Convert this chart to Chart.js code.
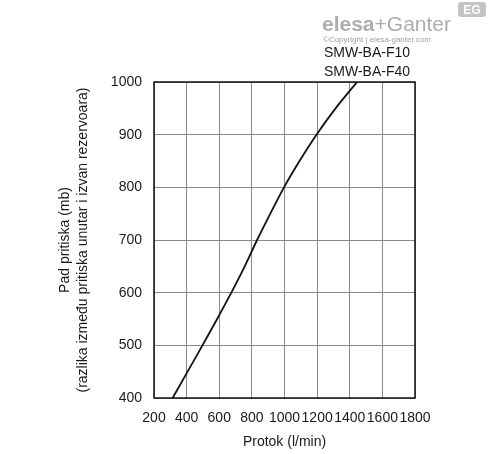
<!DOCTYPE html>
<html>
<head>
<meta charset="utf-8">
<script src="https://cdn.jsdelivr.net/npm/chart.js@4/dist/chart.umd.min.js"></script>
<style>
  html, body { margin: 0; padding: 0; background: #fff; }
  #wrap { width: 488px; height: 454px; }
</style>
</head>
<body>
<div id="wrap"><canvas id="chart" width="488" height="454"></canvas></div>
<script>
// flow (l/min) vs pressure drop (mb)
const flow = [314, 406, 497, 587, 674, 756, 832, 913, 997, 1092, 1196, 1313, 1445];
const pressure = [400, 450, 500, 550, 600, 650, 700, 750, 800, 850, 900, 950, 1000];
const xTicks = [200, 400, 600, 800, 1000, 1200, 1400, 1600, 1800];
const yTicks = [400, 500, 600, 700, 800, 900, 1000];
const modelLabels = ["SMW-BA-F10", "SMW-BA-F40"];

const FONT = "'Liberation Sans', Arial, sans-serif";

// frame round the plot + model names + logo
const extras = {
  id: "extras",
  afterDraw(chart) {
    const { ctx, chartArea: a } = chart;
    ctx.save();
    ctx.strokeStyle = "#111";
    ctx.lineWidth = 1.5;
    ctx.strokeRect(a.left, a.top, a.right - a.left, a.bottom - a.top);

    ctx.fillStyle = "#1a1a1a";
    ctx.font = "14px " + FONT;
    ctx.textAlign = "center";
    ctx.textBaseline = "middle";
    modelLabels.forEach((t, i) => ctx.fillText(t, 367, 53 + i * 19));

    // logo
    ctx.fillStyle = "#adadad";
    ctx.textAlign = "left";
    ctx.textBaseline = "alphabetic";
    ctx.font = "bold 21px " + FONT;
    ctx.fillText("elesa", 322, 31);
    const w = ctx.measureText("elesa").width;
    ctx.font = "21px " + FONT;
    ctx.fillText("+Ganter", 322 + w, 31);
    ctx.fillStyle = "#a0a0a0";
    ctx.font = "8px " + FONT;
    ctx.fillText("©Copyright | elesa-ganter.com", 323, 42);
    ctx.fillStyle = "#c4c4c4";
    ctx.beginPath();
    ctx.roundRect(458, 2, 28, 15, 3);
    ctx.fill();
    ctx.fillStyle = "#fff";
    ctx.font = "bold 12px " + FONT;
    ctx.textAlign = "center";
    ctx.fillText("EG", 472, 14);
    ctx.restore();
  }
};

new Chart(document.getElementById("chart"), {
  type: "line",
  data: {
    datasets: [{
      data: flow.map((x, i) => ({ x, y: pressure[i] })),
      borderColor: "#111",
      borderWidth: 1.8,
      pointRadius: 0,
      cubicInterpolationMode: "monotone",
      fill: false
    }]
  },
  options: {
    responsive: false,
    animation: false,
    layout: { padding: { left: 56, right: 73, top: 82, bottom: 0 } },
    plugins: { legend: { display: false }, tooltip: { enabled: false } },
    scales: {
      x: {
        type: "linear",
        min: 200, max: 1800,
        afterBuildTicks: s => { s.ticks = xTicks.map(v => ({ value: v })); },
        afterFit: s => { s.height = 56; },
        grid: { color: "#8a8a8a", lineWidth: 1, drawTicks: false },
        border: { display: false },
        ticks: { color: "#1a1a1a", font: { family: FONT, size: 14 }, padding: 12, maxRotation: 0, autoSkip: false, callback: v => String(v) },
        title: { display: true, text: "Protok (l/min)", color: "#1a1a1a", font: { family: FONT, size: 14 }, padding: { top: 0, bottom: 3 } }
      },
      y: {
        min: 400, max: 1000,
        afterBuildTicks: s => { s.ticks = yTicks.map(v => ({ value: v })); },
        afterFit: s => { s.width = 98; },
        grid: { color: "#8a8a8a", lineWidth: 1, drawTicks: false },
        border: { display: false },
        ticks: { color: "#1a1a1a", font: { family: FONT, size: 14 }, padding: 12, autoSkip: false, callback: v => String(v) },
        title: {
          display: true,
          text: ["Pad pritiska (mb)", "(razlika između pritiska unutar i izvan rezervoara)"],
          color: "#1a1a1a",
          font: { family: FONT, size: 14, lineHeight: 1.3 },
          padding: { top: 0, bottom: 0 }
        }
      }
    }
  },
  plugins: [extras]
});
</script>
</body>
</html>
